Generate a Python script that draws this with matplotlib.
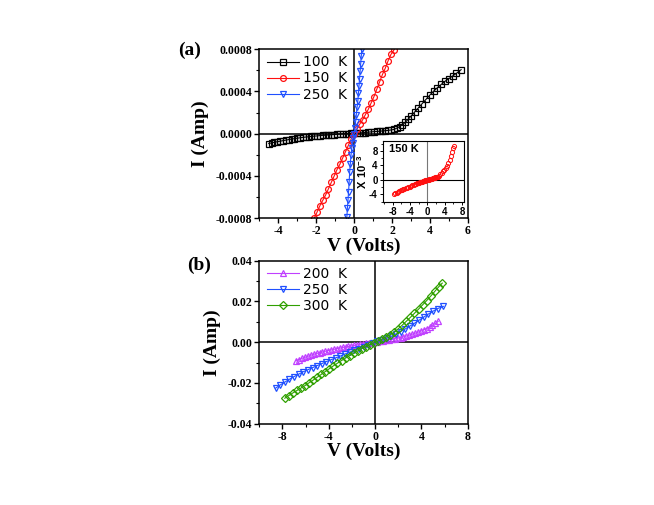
import numpy as np
import matplotlib
matplotlib.use("Agg")
import matplotlib.pyplot as plt
from matplotlib.ticker import MultipleLocator, FormatStrFormatter

plt.rcParams['axes.unicode_minus'] = False
plt.rcParams['mathtext.fontset'] = 'custom'
plt.rcParams['mathtext.bf'] = 'Liberation Sans:bold'
plt.rcParams['mathtext.rm'] = 'Liberation Sans:bold'

# ---- panel (a) data ----
# 100 K, V in volts, I in units of 1e-4 A
v100 = [-4.50, -4.35, -4.20, -4.05, -3.90, -3.75, -3.60, -3.45, -3.30, -3.15,
        -3.00, -2.85, -2.70, -2.55, -2.40, -2.25, -2.10, -1.95, -1.80, -1.65,
        -1.50, -1.35, -1.20, -1.05, -0.90, -0.75, -0.60, -0.45, -0.30, -0.15,
        0.00, 0.15, 0.30, 0.45, 0.60, 0.75, 0.90, 1.05, 1.20, 1.35,
        1.50, 1.65, 1.80, 1.95, 2.10, 2.25, 2.40, 2.55, 2.70, 2.85,
        3.00, 3.20, 3.40, 3.60, 3.80, 4.00, 4.20, 4.40, 4.60, 4.80,
        5.00, 5.20, 5.40, 5.65]
i100 = [-0.93, -0.87, -0.81, -0.76, -0.71, -0.66, -0.61, -0.56, -0.51, -0.47,
        -0.43, -0.39, -0.35, -0.32, -0.29, -0.26, -0.23, -0.21, -0.18, -0.16,
        -0.14, -0.12, -0.10, -0.08, -0.05, -0.03, -0.01, 0.00, 0.01, 0.03,
        0.04, 0.05, 0.07, 0.09, 0.11, 0.14, 0.17, 0.19, 0.21, 0.23,
        0.26, 0.28, 0.31, 0.35, 0.40, 0.52, 0.66, 0.84, 1.06, 1.35,
        1.65, 2.05, 2.45, 2.85, 3.25, 3.65, 4.02, 4.35, 4.65, 4.95,
        5.20, 5.45, 5.70, 6.05]

# 150 K, I in units of 1e-3 A (same data in the inset)
v150 = [-7.7, -7.4, -7.1, -6.8, -6.5, -6.2, -5.9, -5.6, -5.3, -5.0,
        -4.7, -4.4, -4.1, -3.8, -3.5, -3.2, -2.9, -2.6, -2.4, -2.25,
        -2.1, -1.95, -1.8, -1.65, -1.5, -1.35, -1.2, -1.05, -0.9, -0.75,
        -0.6, -0.45, -0.3, -0.15, 0.0, 0.15, 0.3, 0.45, 0.6, 0.75,
        0.9, 1.05, 1.2, 1.35, 1.5, 1.65, 1.8, 1.95, 2.1, 2.25,
        2.4, 2.7, 3.0, 3.3, 3.6, 3.9, 4.2, 4.5, 4.8, 5.1,
        5.4, 5.7, 6.0, 6.2]
i150 = [-3.97, -3.74, -3.50, -3.28, -3.08, -2.90, -2.74, -2.60, -2.45, -2.30,
        -2.15, -2.00, -1.85, -1.70, -1.56, -1.42, -1.28, -1.12, -0.98, -0.87,
        -0.80, -0.74, -0.68, -0.63, -0.58, -0.52, -0.46, -0.40, -0.34, -0.29,
        -0.23, -0.17, -0.11, -0.05, 0.00, 0.04, 0.09, 0.13, 0.18, 0.23,
        0.29, 0.35, 0.42, 0.49, 0.56, 0.62, 0.69, 0.75, 0.79, 0.84,
        0.90, 1.15, 1.50, 1.85, 2.30, 2.75, 3.25, 3.90, 4.70, 5.50,
        6.50, 7.60, 8.70, 9.30]

# 250 K (panel a), I in units of 1e-4 A
v250a = [-0.38, -0.35, -0.32, -0.29, -0.26, -0.23, -0.20, -0.16, -0.12, -0.08,
         -0.04, 0.00, 0.04, 0.08, 0.12, 0.16, 0.20, 0.23, 0.26, 0.29,
         0.32, 0.35, 0.38, 0.41, 0.44]
i250a = [-7.9, -7.0, -6.3, -5.5, -4.6, -3.6, -2.9, -2.0, -1.4, -0.9,
         -0.4, 0.0, 0.5, 1.1, 1.8, 2.5, 3.1, 3.8, 4.5, 5.2,
         5.9, 6.6, 7.3, 8.0, 8.7]

# ---- panel (b) data, I in units of 1e-3 A ----
v200 = [-6.80, -6.55, -6.30, -6.05, -5.80, -5.55, -5.30, -5.05, -4.80, -4.55,
        -4.30, -4.05, -3.80, -3.55, -3.30, -3.05, -2.80, -2.55, -2.30, -2.05,
        -1.80, -1.55, -1.30, -1.05, -0.80, -0.55, -0.30, -0.05, 0.20, 0.45,
        0.70, 0.95, 1.20, 1.45, 1.70, 1.95, 2.20, 2.45, 2.70, 2.95,
        3.20, 3.45, 3.70, 3.95, 4.20, 4.45, 4.70, 4.95, 5.20, 5.45]
i200 = [-9.1, -8.5, -7.9, -7.4, -6.9, -6.4, -5.95, -5.55, -5.15, -4.8,
        -4.45, -4.1, -3.8, -3.5, -3.2, -2.9, -2.6, -2.35, -2.1, -1.85,
        -1.6, -1.35, -1.1, -0.85, -0.6, -0.4, -0.2, 0.0, 0.2, 0.4,
        0.65, 0.85, 1.1, 1.35, 1.65, 1.95, 2.3, 2.65, 3.05, 3.45,
        3.9, 4.4, 4.9, 5.45, 6.05, 6.7, 7.45, 8.3, 9.2, 10.2]

v250b = [-8.6, -8.2, -7.8, -7.4, -7.0, -6.6, -6.2, -5.8, -5.4, -5.0,
         -4.6, -4.2, -3.8, -3.4, -3.0, -2.6, -2.2, -1.8, -1.4, -1.0,
         -0.6, -0.2, 0.2, 0.6, 1.0, 1.4, 1.8, 2.2, 2.6, 3.0,
         3.4, 3.8, 4.2, 4.6, 5.0, 5.4, 5.9]
i250b = [-22.6, -21.0, -19.6, -18.2, -16.9, -15.7, -14.5, -13.5, -12.5, -11.5,
         -10.5, -9.5, -8.6, -7.7, -6.8, -5.8, -4.9, -4.0, -3.1, -2.2,
         -1.4, -0.5, 0.4, 1.2, 2.0, 2.9, 4.0, 5.2, 6.5, 7.9,
         9.3, 10.8, 12.3, 13.8, 15.2, 16.5, 17.6]

v300 = [-7.8, -7.45, -7.1, -6.75, -6.4, -6.05, -5.7, -5.35, -5.0, -4.65,
        -4.3, -3.95, -3.6, -3.25, -2.9, -2.55, -2.2, -1.85, -1.5, -1.15,
        -0.8, -0.45, -0.1, 0.25, 0.6, 0.95, 1.3, 1.65, 2.0, 2.35,
        2.7, 3.05, 3.4, 3.75, 4.1, 4.45, 4.8, 5.15, 5.5, 5.8]
i300 = [-27.5, -26.2, -24.9, -23.7, -22.5, -21.3, -19.9, -18.6, -17.2, -15.8,
        -14.4, -13.0, -11.6, -10.3, -9.0, -7.8, -6.6, -5.4, -4.3, -3.2,
        -2.2, -1.2, -0.3, 0.6, 1.6, 2.6, 3.6, 4.9, 6.6, 8.4,
        10.3, 12.2, 14.2, 16.2, 18.3, 20.4, 22.6, 24.9, 27.2, 29.0]

serif = 'Liberation Serif'
labfont = dict(family=serif, weight='bold', size=14)


def style_axes(ax):
    for s in ax.spines.values():
        s.set_linewidth(1.1)
    ax.tick_params(which='major', direction='out', length=3.5, width=1.0,
                   top=False, right=False, pad=1.5)
    ax.tick_params(which='minor', direction='out', length=2, width=0.8,
                   top=False, right=False)
    for lab in ax.get_xticklabels() + ax.get_yticklabels():
        lab.set_fontfamily(serif)
        lab.set_fontweight('bold')
        lab.set_fontsize(8.5)
    ax.axhline(0, color='k', lw=1.1, zorder=1)
    ax.axvline(0, color='k', lw=1.1, zorder=1)


fig = plt.figure(figsize=(6.54, 5.05), dpi=100)

# ---- panel (a) ----
ax1 = fig.add_axes([0.3965, 0.5677, 0.3187, 0.3352])
mk = dict(markerfacecolor='none', markersize=4.2, markeredgewidth=0.9, lw=0.8)
ax1.plot(v100, np.array(i100) * 1e-4, '-s', color='black', label='100  K', **mk)
ax1.plot(v150, np.array(i150) * 1e-3, '-o', color='#ff1010', label='150  K', **mk)
ax1.plot(v250a, np.array(i250a) * 1e-4, '-v', color='#2050ff', label='250  K', **mk)
ax1.set_xlim(-5, 6)
ax1.set_ylim(-0.0008, 0.0008)
ax1.xaxis.set_major_locator(MultipleLocator(2))
ax1.xaxis.set_minor_locator(MultipleLocator(1))
ax1.yaxis.set_major_locator(MultipleLocator(0.0004))
ax1.yaxis.set_minor_locator(MultipleLocator(0.0002))
ax1.yaxis.set_major_formatter(FormatStrFormatter('%.4f'))
style_axes(ax1)
ax1.set_xlabel('V (Volts)', fontdict=labfont, labelpad=0)
ax1.set_ylabel('I (Amp)', fontdict=labfont, labelpad=5)
ax1.legend(loc='upper left', bbox_to_anchor=(-0.01, 1.02), frameon=False,
           prop=dict(family='DejaVu Sans', size=10), handlelength=2.3,
           handletextpad=0.3, labelspacing=0.15, borderaxespad=0.3)
fig.text(190 / 654, 1 - 50 / 505, '(a)', ha='center', va='center', **labfont)

# inset
axin = fig.add_axes([0.5852, 0.5994, 0.1248, 0.122])
axin.plot(v150, i150, 'o', color='#ff1010', markerfacecolor='none',
          markersize=3, markeredgewidth=0.7)
axin.axhline(0, color='k', lw=0.8, zorder=1)
axin.axvline(0, color='#777777', lw=0.8, zorder=1)
axin.set_xlim(-10.3, 8.5)
axin.set_ylim(-6.2, 10.8)
axin.xaxis.set_major_locator(MultipleLocator(4))
axin.xaxis.set_minor_locator(MultipleLocator(2))
axin.yaxis.set_major_locator(MultipleLocator(4))
axin.yaxis.set_minor_locator(MultipleLocator(2))
for s in axin.spines.values():
    s.set_linewidth(0.8)
axin.tick_params(which='major', direction='out', length=2.5, width=0.7, pad=1)
axin.tick_params(which='minor', direction='out', length=1.5, width=0.6)
for lab in axin.get_xticklabels() + axin.get_yticklabels():
    lab.set_fontfamily('Liberation Sans')
    lab.set_fontweight('bold')
    lab.set_fontsize(7)
axin.set_ylabel(r'$\mathbf{X\ 10^{-3}}$', fontsize=8, labelpad=0)
axin.text(0.08, 0.86, '150 K', transform=axin.transAxes, ha='left', va='center',
          family='Liberation Sans', weight='bold', fontsize=8)

# ---- panel (b) ----
ax2 = fig.add_axes([0.3965, 0.161, 0.3187, 0.3228])
ax2.plot(v200, np.array(i200) * 1e-3, '-^', color='#c040ff', label='200  K', **mk)
ax2.plot(v250b, np.array(i250b) * 1e-3, '-v', color='#2050ff', label='250  K', **mk)
ax2.plot(v300, np.array(i300) * 1e-3, '-D', color='#30a000', label='300  K',
         markerfacecolor='none', markersize=3.8, markeredgewidth=0.9, lw=0.8)
ax2.set_xlim(-10, 8)
ax2.set_ylim(-0.04, 0.04)
ax2.xaxis.set_major_locator(MultipleLocator(4))
ax2.xaxis.set_minor_locator(MultipleLocator(2))
ax2.yaxis.set_major_locator(MultipleLocator(0.02))
ax2.yaxis.set_minor_locator(MultipleLocator(0.01))
ax2.yaxis.set_major_formatter(FormatStrFormatter('%.2f'))
style_axes(ax2)
ax2.set_xlabel('V (Volts)', fontdict=labfont, labelpad=0)
ax2.set_ylabel('I (Amp)', fontdict=labfont, labelpad=5)
ax2.legend(loc='upper left', bbox_to_anchor=(-0.01, 1.02), frameon=False,
           prop=dict(family='DejaVu Sans', size=10), handlelength=2.3,
           handletextpad=0.3, labelspacing=0.15, borderaxespad=0.3)
fig.text(199 / 654, 1 - 265 / 505, '(b)', ha='center', va='center', **labfont)

fig.savefig('out.png', dpi=100)
